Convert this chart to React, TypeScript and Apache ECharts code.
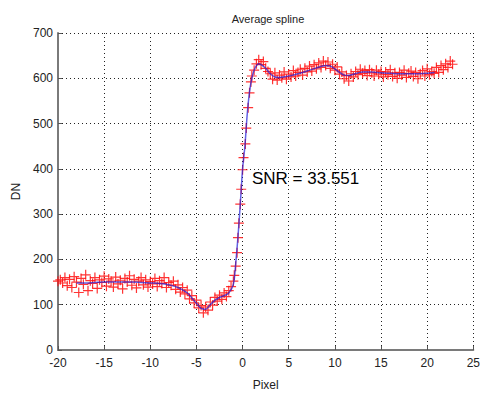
import React, { useEffect, useRef } from "react";
import * as echarts from "echarts";

const titleText = "Average spline";
const xName = "Pixel";
const yName = "DN";
const snrText = "SNR = 33.551";

// measured samples [pixel, DN]
const samples: [number, number][] = [
  [-20, 152], [-19.75, 155], [-19.5, 148], [-19.25, 160], [-19, 142], [-18.75, 156], [-18.5, 138], [-18.25, 162],
  [-18, 150], [-17.75, 127], [-17.5, 158], [-17.25, 145], [-17, 166], [-16.75, 131], [-16.5, 153], [-16.25, 147],
  [-16, 160], [-15.75, 136], [-15.5, 155], [-15.25, 149], [-15, 163], [-14.75, 141], [-14.5, 157], [-14.25, 152],
  [-14, 139], [-13.75, 161], [-13.5, 146], [-13.25, 154], [-13, 135], [-12.75, 158], [-12.5, 150], [-12.25, 164],
  [-12, 143], [-11.75, 156], [-11.5, 137], [-11.25, 152], [-11, 160], [-10.75, 144], [-10.5, 155], [-10.25, 139],
  [-10, 151], [-9.75, 146], [-9.5, 158], [-9.25, 140], [-9, 153], [-8.75, 147], [-8.5, 160], [-8.25, 138],
  [-8, 149], [-7.75, 143], [-7.5, 152], [-7.25, 134], [-7, 144], [-6.75, 128], [-6.5, 138], [-6.25, 124],
  [-6, 132], [-5.75, 113], [-5.5, 120], [-5.25, 104], [-5, 110], [-4.75, 93], [-4.5, 98], [-4.25, 82],
  [-4, 95], [-3.75, 88], [-3.5, 106], [-3.25, 99], [-3, 116], [-2.75, 108], [-2.5, 121], [-2.25, 112],
  [-2, 126], [-1.75, 118], [-1.5, 131], [-1.25, 140], [-1, 152], [-0.9, 165], [-0.75, 185], [-0.6, 215],
  [-0.5, 248], [-0.4, 280], [-0.25, 322], [-0.15, 355], [0, 398], [0.1, 425], [0.3, 455], [0.4, 490],
  [0.6, 535], [0.75, 568], [0.9, 592], [1, 605], [1.25, 618], [1.5, 632], [1.75, 641], [2, 630],
  [2.25, 637], [2.5, 622], [2.75, 615], [3, 610], [3.25, 598], [3.5, 612], [3.75, 596], [4, 607],
  [4.25, 601], [4.5, 614], [4.75, 598], [5, 609], [5.25, 603], [5.5, 617], [5.75, 605], [6, 613],
  [6.25, 620], [6.5, 607], [6.75, 622], [7, 614], [7.25, 627], [7.5, 616], [7.75, 630], [8, 621],
  [8.25, 634], [8.5, 624], [8.75, 638], [9, 628], [9.25, 636], [9.5, 622], [9.75, 631], [10, 618],
  [10.25, 625], [10.5, 609], [10.75, 614], [11, 599], [11.25, 606], [11.5, 594], [11.75, 610], [12, 603],
  [12.25, 615], [12.5, 608], [12.75, 620], [13, 611], [13.25, 617], [13.5, 606], [13.75, 619], [14, 612],
  [14.25, 605], [14.5, 618], [14.75, 609], [15, 615], [15.25, 603], [15.5, 614], [15.75, 608], [16, 619],
  [16.25, 604], [16.5, 612], [16.75, 600], [17, 613], [17.25, 607], [17.5, 618], [17.75, 602], [18, 611],
  [18.25, 616], [18.5, 604], [18.75, 613], [19, 599], [19.25, 610], [19.5, 617], [19.75, 605], [20, 621],
  [20.25, 608], [20.5, 615], [20.75, 611], [21, 624], [21.25, 613], [21.5, 628], [21.75, 619], [22, 632],
  [22.25, 624], [22.5, 638], [22.75, 631],
];

// fitted spline [pixel, DN]
const spline: [number, number][] = [
  [-18, 148], [-17, 148], [-16, 149], [-15, 150], [-14, 150], [-13, 150], [-12, 150], [-11, 149],
  [-10, 148], [-9, 147], [-8, 144], [-7, 138], [-6, 126], [-5.5, 115], [-5, 103], [-4.5, 92],
  [-4, 90], [-3.5, 100], [-3, 110], [-2.5, 116], [-2, 120], [-1.5, 126], [-1, 145], [-0.75, 190],
  [-0.5, 250], [-0.25, 322], [0, 400], [0.25, 450], [0.5, 520], [0.75, 570], [1, 600], [1.25, 618],
  [1.5, 628], [1.75, 632], [2, 630], [2.5, 622], [3, 610], [3.5, 603], [4, 602], [5, 605],
  [6, 610], [7, 616], [8, 623], [9, 628], [9.5, 627], [10, 621], [10.5, 613], [11, 607],
  [11.5, 606], [12, 609], [13, 614], [14, 614], [15, 612], [16, 611], [17, 610], [18, 610],
  [19, 610], [20, 611], [20.8, 613],
];

const xMin = -20, xMax = 25, xStep = 5;
const yMin = 0, yMax = 700, yStep = 100;

const plusPath = "path://M4.4,0H5.6V4.4H10V5.6H5.6V10H4.4V5.6H0V4.4H4.4Z";

export default function App() {
  const ref = useRef<HTMLDivElement>(null);
  useEffect(() => {
    if (!ref.current) return;
    const chart = echarts.init(ref.current, undefined, { renderer: "svg" });
    const font = "Arial, 'Liberation Sans', sans-serif";
    chart.setOption({
      animation: false,
      backgroundColor: "#ffffff",
      textStyle: { fontFamily: font },
      grid: { left: 58, right: 4, top: 33, bottom: 33, containLabel: false },
      xAxis: {
        type: "value",
        min: xMin,
        max: xMax,
        interval: xStep,
        name: xName,
        nameLocation: "middle",
        nameGap: 29,
        nameTextStyle: { fontSize: 12, color: "#222", fontFamily: font },
        axisLine: { onZero: false, lineStyle: { color: "#7a7a7a", width: 2 } },
        axisTick: { inside: true, length: 4, lineStyle: { color: "#555" } },
        axisLabel: { fontSize: 12, color: "#222", margin: 7, fontFamily: font },
        splitLine: { show: true, lineStyle: { type: [1, 3], color: "#222", width: 1 } },
      },
      yAxis: {
        type: "value",
        min: yMin,
        max: yMax,
        interval: yStep,
        name: yName,
        nameLocation: "middle",
        nameGap: 33,
        nameRotate: 90,
        nameTextStyle: { fontSize: 12, color: "#222", fontFamily: font },
        axisLine: { show: true, onZero: false, lineStyle: { color: "#7a7a7a", width: 2 } },
        axisTick: { show: true, inside: true, length: 4, lineStyle: { color: "#555" } },
        axisLabel: { fontSize: 12, color: "#222", margin: 5, fontFamily: font, verticalAlign: "middle", padding: [0, 0, 4, 0] },
        splitLine: { show: true, lineStyle: { type: [1, 3], color: "#222", width: 1 } },
      },
      graphic: [
        {
          type: "text",
          x: 268,
          y: 13,
          style: { text: titleText, fontSize: 11, fill: "#222", fontFamily: font, align: "center" },
          z: 100,
        },
        {
          type: "text",
          x: 252,
          y: 170,
          style: { text: snrText, fontSize: 17, fill: "#000", fontFamily: font },
          z: 100,
        },
      ],
      series: [
        {
          type: "scatter",
          data: samples,
          symbol: plusPath,
          symbolSize: 10,
          itemStyle: { color: "#ff1010", opacity: 0.85 },
          z: 2,
        },
        {
          type: "line",
          data: spline,
          showSymbol: false,
          smooth: 0.3,
          lineStyle: { color: "#2020d8", width: 1.5, opacity: 0.7 },
          z: 3,
        },
      ],
    });
    return () => chart.dispose();
  }, []);
  return <div ref={ref} style={{ position: "fixed", left: 0, top: 0, width: 483, height: 396 }} />;
}
